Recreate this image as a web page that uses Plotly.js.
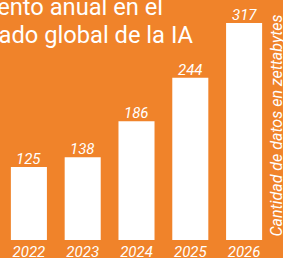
<!DOCTYPE html>
<html><head><meta charset="utf-8">
<script src="https://cdn.plot.ly/plotly-3.0.1.min.js"></script>
<style>html,body{margin:0;padding:0;background:#F0832A;}#c{width:283px;height:258px;}</style>
</head><body><div id="c"></div>
<script>
const years = ['2022','2023','2024','2025','2026'];
const values = [125, 138, 186, 244, 317];
const labels = ['125','138','186','244','317'];
const titleLines = ['Aumento anual en el', 'mercado global de la IA'];
const yTitle = 'Cantidad de datos en zettabytes';

const bg = '#F0832A';
const fontFam = 'Roboto, "Open Sans", sans-serif';
const labelFont = {family: fontFam, size: 15, color: '#ffffff', style: 'italic'};

const trace = {
  type: 'bar', x: years, y: values,
  marker: {color: '#ffffff', line: {width: 0}},
  hoverinfo: 'none'
};
const valueAnnotations = years.map((yr, i) => ({
  x: i, y: values[i], xref: 'x', yref: 'y', text: labels[i],
  xanchor: 'center', yanchor: 'bottom', yshift: -2, borderpad: 0,
  showarrow: false, font: labelFont
}));
const layout = {
  width: 283, height: 258,
  margin: {l: 2, r: 12, t: 10, b: 18, pad: 0},
  paper_bgcolor: bg, plot_bgcolor: bg,
  bargap: 0.33,
  showlegend: false,
  xaxis: {type: 'category', range: [-0.5, 4.5], showgrid: false, zeroline: false, showline: false, ticks: '',
    ticklabelstandoff: 1, tickfont: labelFont},
  yaxis: {range: [27.5, 334.3], showgrid: false, zeroline: false, showline: false,
    showticklabels: false, ticks: ''},
  annotations: valueAnnotations.concat([
    {text: titleLines[0], xref: 'paper', yref: 'paper', x: (163.5 - 2) / 269, y: (240 - 22) / 230,
     xanchor: 'right', yanchor: 'bottom', align: 'left', showarrow: false, borderpad: 0,
     font: {family: fontFam, size: 23.7, color: '#ffffff'}},
    {text: titleLines[1], xref: 'paper', yref: 'paper', x: (195 - 2) / 269, y: (240 - 50.1) / 230,
     xanchor: 'right', yanchor: 'bottom', align: 'left', showarrow: false, borderpad: 0,
     font: {family: fontFam, size: 23.7, color: '#ffffff'}},
    {text: yTitle, xref: 'paper', yref: 'paper', x: 1.0186, y: (240 - 125.5) / 230,
     xanchor: 'center', yanchor: 'middle', textangle: -90, showarrow: false,
     font: {family: fontFam, size: 16, color: '#ffffff', style: 'italic'}}
  ])
};
Plotly.newPlot('c', [trace], layout, {displayModeBar: false, staticPlot: true});
</script></body></html>
